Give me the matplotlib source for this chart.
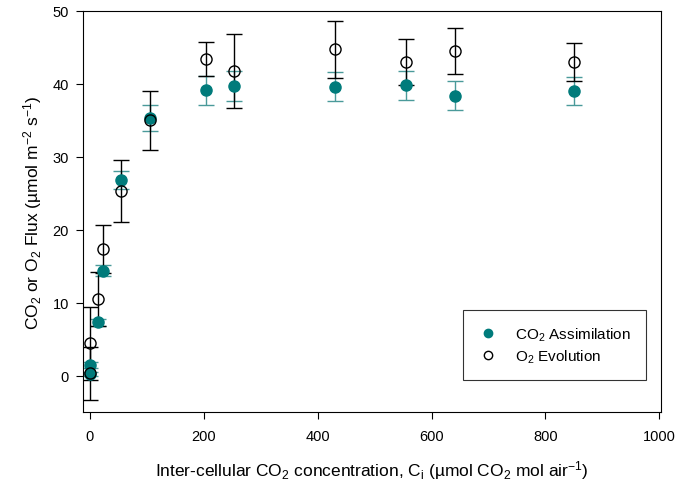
import matplotlib
matplotlib.use("Agg")
import matplotlib.pyplot as plt

plt.rcParams['font.family'] = ['Liberation Sans', 'DejaVu Sans']
plt.rcParams['mathtext.fontset'] = 'custom'
plt.rcParams['mathtext.rm'] = 'Liberation Sans'
plt.rcParams['mathtext.it'] = 'Liberation Sans'

# CO2 assimilation (filled)
co2_x = [0, 1, 13.5, 23, 55.5, 105, 203.5, 252.6, 429.8, 554.4, 642, 850]
co2_y = [0.2, 1.5, 7.3, 14.4, 26.8, 35.3, 39.1, 39.7, 39.6, 39.8, 38.4, 39.0]
co2_err = [0.3, 0.4, 0.5, 0.7, 1.2, 1.8, 2.0, 2.0, 2.0, 2.0, 2.0, 1.95]

# O2 evolution (open)
o2_x = [0, 1, 13.5, 23, 55.5, 105, 203.5, 252.6, 429.8, 554.4, 642, 850]
o2_y = [0.3, 4.4, 10.5, 17.4, 25.3, 35.0, 43.4, 41.8, 44.75, 43.0, 44.5, 43.0]
o2_err = [3.6, 5.0, 3.7, 3.3, 4.2, 4.0, 2.3, 5.1, 3.9, 3.1, 3.2, 2.65]

teal = '#007b7b'

fig = plt.figure(figsize=(6.78, 4.89), dpi=100)
ax = fig.add_axes([0.1224, 0.1554, 0.8526, 0.8201])

ax.errorbar(co2_x, co2_y, yerr=co2_err, fmt='none', ecolor='#4a9a9a',
            elinewidth=1.0, capsize=6, capthick=1.0, zorder=2)
ax.errorbar(o2_x, o2_y, yerr=o2_err, fmt='none', ecolor='black',
            elinewidth=1.0, capsize=6, capthick=1.0, zorder=2)
ax.plot(co2_x, co2_y, 'o', color=teal, markersize=8, markeredgecolor=teal,
        label='CO$_2$ Assimilation', zorder=3)
ax.plot(o2_x, o2_y, 'o', markerfacecolor='none', markeredgecolor='black',
        markersize=8, markeredgewidth=1.0, label='O$_2$ Evolution', zorder=4)

ax.set_xlim(-12, 1003)
ax.set_ylim(-5, 50)
ax.set_xticks([0, 200, 400, 600, 800, 1000])
ax.set_yticks([0, 10, 20, 30, 40, 50])
ax.tick_params(axis='both', direction='out', length=5, labelsize=10.5,
               top=False, right=False)
ax.tick_params(axis='x', pad=7)
ax.tick_params(axis='y', pad=5)

ax.set_xlabel('Inter-cellular CO$_2$ concentration, C$_\\mathrm{i}$ (µmol CO$_2$ mol air$^{-1}$)',
              fontsize=12.5, labelpad=11)
ax.set_ylabel('CO$_2$ or O$_2$ Flux (µmol m$^{-2}$ s$^{-1}$)', fontsize=12.5, labelpad=6)

leg = ax.legend(loc='lower right', bbox_to_anchor=(0.974, 0.08), fontsize=11,
                frameon=True, fancybox=False, edgecolor='black', markerscale=0.75,
                borderpad=1.0, handlelength=1.3, handletextpad=1.1,
                labelspacing=0.3, borderaxespad=0)
leg.get_frame().set_linewidth(0.8)

fig.savefig('out.png', dpi=100)
